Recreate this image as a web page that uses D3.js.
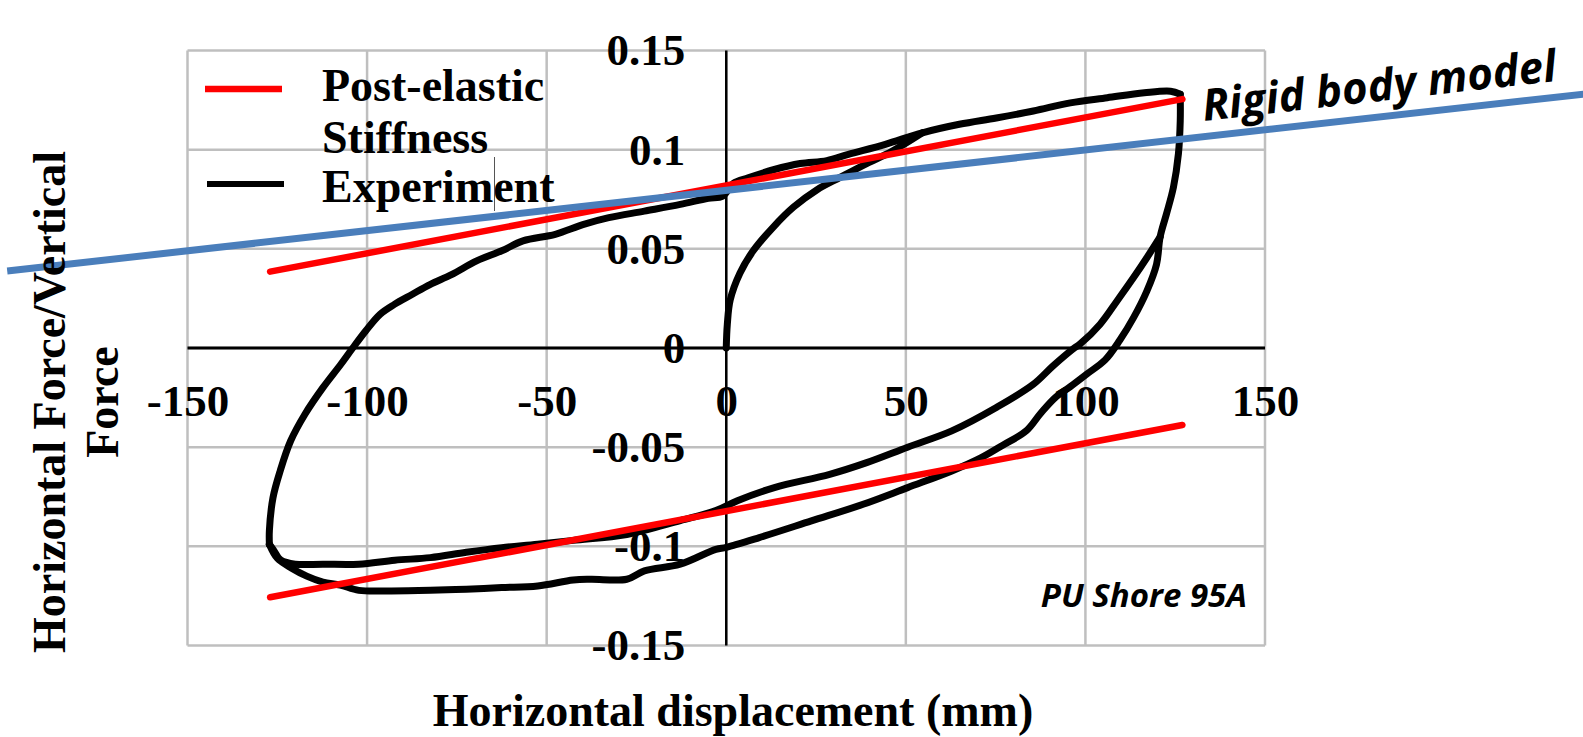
<!DOCTYPE html>
<html>
<head>
<meta charset="utf-8">
<title>PU Shore 95A hysteresis</title>
<style>
  body { margin: 0; background: #fff; }
  svg { display: block; }
  .grid line { stroke: #bfbfbf; stroke-width: 2.5px; }
  .tick-lbl text, .ttl { font-family: "Liberation Serif", "Times New Roman", serif; font-weight: bold; fill: #000; }
  .note { font-family: "Open Sans", sans-serif; font-weight: bold; font-style: italic; fill: #000; }
</style>
</head>
<body>
<div id="chart"></div>
<script src="https://cdn.jsdelivr.net/npm/d3@7"></script>
<script>
// ---- data ----
var xTicks = [-150, -100, -50, 0, 50, 100, 150];
var xTickLabels = ["-150", "-100", "-50", "0", "50", "100", "150"];
var yTicks = [0.15, 0.1, 0.05, 0, -0.05, -0.1, -0.15];
var yTickLabels = ["0.15", "0.1", "0.05", "0", "-0.05", "-0.1", "-0.15"];

// initial loading from rest
var loadX = [0, 0.3, 1.1, 3.8, 7.5, 13.1, 18.7, 25.2, 31.7, 39.1, 46, 54.6];
var loadY = [0, 0.012, 0.0242, 0.0377, 0.049, 0.061, 0.071, 0.0797, 0.086, 0.093, 0.099, 0.1085];

// left side going up + upper branch up to the peak
var upperX = [-127.2, -127.2, -126.2, -124.2, -121.3, -117.3, -112.3, -107.3, -104, -100.4, -96.4, -92.4, -87.5, -82.5, -76.5,
  -69.5, -62.5, -56.6, -47.6, -39.7, -32.7, -22.8, -12.8, -5, -1, 2, 6.1, 13.4, 20.6, 28, 34, 44.3, 54.6, 64.9, 75.2, 85.5,
  95.8, 106.1, 116.4, 123.7, 126.4];
var upperY = [-0.099, -0.092, -0.0755, -0.062, -0.0469, -0.0334, -0.02, -0.0082, 0, 0.0086, 0.017, 0.022, 0.027, 0.032, 0.037,
  0.0439, 0.049, 0.054, 0.0573, 0.0623, 0.0657, 0.069, 0.0724, 0.0755, 0.0765, 0.083, 0.0858, 0.09, 0.093, 0.0945, 0.0976, 0.1027,
  0.1085, 0.1128, 0.116, 0.1195, 0.1236, 0.1262, 0.1287, 0.1295, 0.128];

// first unloading: outer descending branch + lowest branch
var outerX = [126.4, 126.4, 125.9, 124.5, 122.6, 120.8, 119.8, 117.1, 113.4, 109.6, 105.5, 100.5, 95.8, 91.6, 87.5, 83.5, 77,
  71, 62.8, 50.5, 38.1, 23.7, 9.2, 0, -2.9, -12.8, -22.8, -27.7, -37.7, -42.6, -52.5, -62.5, -72.4, -82.4, -93.6, -102.3,
  -107.5, -112.3, -116.8, -121, -125, -127.2];
var outerY = [0.128, 0.1145, 0.098, 0.081, 0.0678, 0.056, 0.0422, 0.0287, 0.0153, 0.004, -0.006, -0.013, -0.0195, -0.025,
  -0.033, -0.0418, -0.049, -0.0553, -0.062, -0.0704, -0.0788, -0.0872, -0.0956, -0.1005, -0.1015, -0.109, -0.1124, -0.1166,
  -0.1166, -0.117, -0.12, -0.1208, -0.1216, -0.1222, -0.1225, -0.1222, -0.1195, -0.118, -0.115, -0.111, -0.106, -0.099];

// second unloading: inner descending branch + upper part of lower branch
var innerX = [120.8, 117.1, 113.4, 108.8, 104.1, 98.5, 96.9, 91, 85.5, 75.2, 62.8, 50.5, 39.1, 28.8, 13.4, 3.1, -2.9, -12.8,
  -27.7, -42.6, -52.5, -62.5, -72.4, -82.4, -92.3, -102.3, -112.3, -120, -124, -126, -127.2];
var innerY = [0.056, 0.0455, 0.0355, 0.0237, 0.012, 0.002, 0, -0.009, -0.0183, -0.03, -0.0418, -0.05, -0.0578, -0.0637,
  -0.0704, -0.077, -0.082, -0.087, -0.094, -0.097, -0.099, -0.1007, -0.103, -0.1057, -0.107, -0.109, -0.109, -0.109, -0.107,
  -0.102, -0.099];

// post-elastic stiffness lines
var stiffX = [-127, 127];
var stiffUpperY = [0.0385, 0.1255];
var stiffLowerY = [-0.1257, -0.0388];

// rigid body model line
var rigidX = [-200.2, 238.7];
var rigidY = [0.0388, 0.128];

// ---- drawing ----
var width = 1583, height = 737;

var x = d3.scaleLinear().domain([-150, 150]).range([187.5, 1265]);
var y = d3.scaleLinear().domain([-0.15, 0.15]).range([645.5, 50.5]);

var svg = d3.select("#chart").append("svg")
    .attr("width", width)
    .attr("height", height);

// gridlines (incl. the frame)
var grid = svg.append("g").attr("class", "grid");
grid.selectAll("line.v").data(xTicks).enter().append("line")
    .attr("x1", function(d) { return x(d); }).attr("x2", function(d) { return x(d); })
    .attr("y1", y(0.15)).attr("y2", y(-0.15));
grid.selectAll("line.h").data(yTicks).enter().append("line")
    .attr("y1", function(d) { return y(d); }).attr("y2", function(d) { return y(d); })
    .attr("x1", x(-150)).attr("x2", x(150));

// zero axes
svg.append("line").attr("x1", x(-150)).attr("x2", x(150)).attr("y1", y(0)).attr("y2", y(0))
    .attr("stroke", "#000").attr("stroke-width", 3);
svg.append("line").attr("x1", x(0)).attr("x2", x(0)).attr("y1", y(0.15)).attr("y2", y(-0.15))
    .attr("stroke", "#000").attr("stroke-width", 2.5);

// tick labels via d3 axes, hung on the zero lines
var xAxis = d3.axisBottom(x).tickValues(xTicks).tickSize(0).tickPadding(36)
    .tickFormat(function(d, i) { return xTickLabels[i]; });
var gx = svg.append("g").attr("class", "tick-lbl").attr("transform", "translate(0," + y(0) + ")").call(xAxis);
gx.select(".domain").remove();
gx.selectAll("text").style("font-size", "45px");

var yAxis = d3.axisLeft(y).tickValues(yTicks).tickSize(0).tickPadding(41)
    .tickFormat(function(d, i) { return yTickLabels[i]; });
var gy = svg.append("g").attr("class", "tick-lbl").attr("transform", "translate(" + x(0) + ",0)").call(yAxis);
gy.select(".domain").remove();
gy.selectAll("text").style("font-size", "45px");

// experiment curve
var line = d3.line()
    .x(function(d) { return x(d[0]); })
    .y(function(d) { return y(d[1]); })
    .curve(d3.curveCatmullRom.alpha(0.5));

function pairs(xs, ys) { return xs.map(function(v, i) { return [v, ys[i]]; }); }

var expGroup = svg.append("g")
    .attr("fill", "none").attr("stroke", "#000").attr("stroke-width", 7)
    .attr("stroke-linejoin", "round").attr("stroke-linecap", "round");
[[loadX, loadY], [upperX, upperY], [outerX, outerY], [innerX, innerY]].forEach(function(s) {
  expGroup.append("path").attr("d", line(pairs(s[0], s[1])));
});

// post-elastic stiffness (red)
var straight = d3.line().x(function(d) { return x(d[0]); }).y(function(d) { return y(d[1]); });
[stiffUpperY, stiffLowerY].forEach(function(ys) {
  svg.append("path").attr("d", straight(pairs(stiffX, ys)))
      .attr("stroke", "#ff0000").attr("stroke-width", 6.5).attr("stroke-linecap", "round").attr("fill", "none");
});

// legend
svg.append("line").attr("x1", 205).attr("x2", 282).attr("y1", 89).attr("y2", 89)
    .attr("stroke", "#ff0000").attr("stroke-width", 6.5);
svg.append("line").attr("x1", 207).attr("x2", 284).attr("y1", 184).attr("y2", 184)
    .attr("stroke", "#000").attr("stroke-width", 6);
var leg = svg.append("g").attr("class", "ttl").style("font-size", "46px");
leg.append("text").attr("x", 322).attr("y", 101).text("Post-elastic");
leg.append("text").attr("x", 322).attr("y", 153).text("Stiffness");
leg.append("text").attr("x", 322).attr("y", 202).text("Experiment");
// stray text cursor from the source figure
svg.append("line").attr("x1", 494.5).attr("x2", 494.5).attr("y1", 157).attr("y2", 211)
    .attr("stroke", "#555").attr("stroke-width", 1);

// rigid body model (blue)
svg.append("path").attr("d", straight(pairs(rigidX, rigidY)))
    .attr("stroke", "#4a7ebb").attr("stroke-width", 7).attr("fill", "none");

svg.append("text").attr("class", "note")
    .attr("transform", "translate(1204,121) rotate(-6.5)")
    .style("font-size", "44px")
    .text("Rigid body model");

svg.append("text").attr("class", "note")
    .attr("x", 1247).attr("y", 607).attr("text-anchor", "end")
    .style("font-size", "33px")
    .text("PU Shore 95A");

// axis titles
svg.append("text").attr("class", "ttl")
    .attr("x", 733).attr("y", 726).attr("text-anchor", "middle")
    .style("font-size", "46px")
    .text("Horizontal displacement (mm)");

svg.append("text").attr("class", "ttl")
    .attr("transform", "translate(65,402) rotate(-90)").attr("text-anchor", "middle")
    .style("font-size", "46px")
    .text("Horizontal Force/Vertical");
svg.append("text").attr("class", "ttl")
    .attr("transform", "translate(118,402) rotate(-90)").attr("text-anchor", "middle")
    .style("font-size", "46px")
    .text("Force");
</script>
</body>
</html>
